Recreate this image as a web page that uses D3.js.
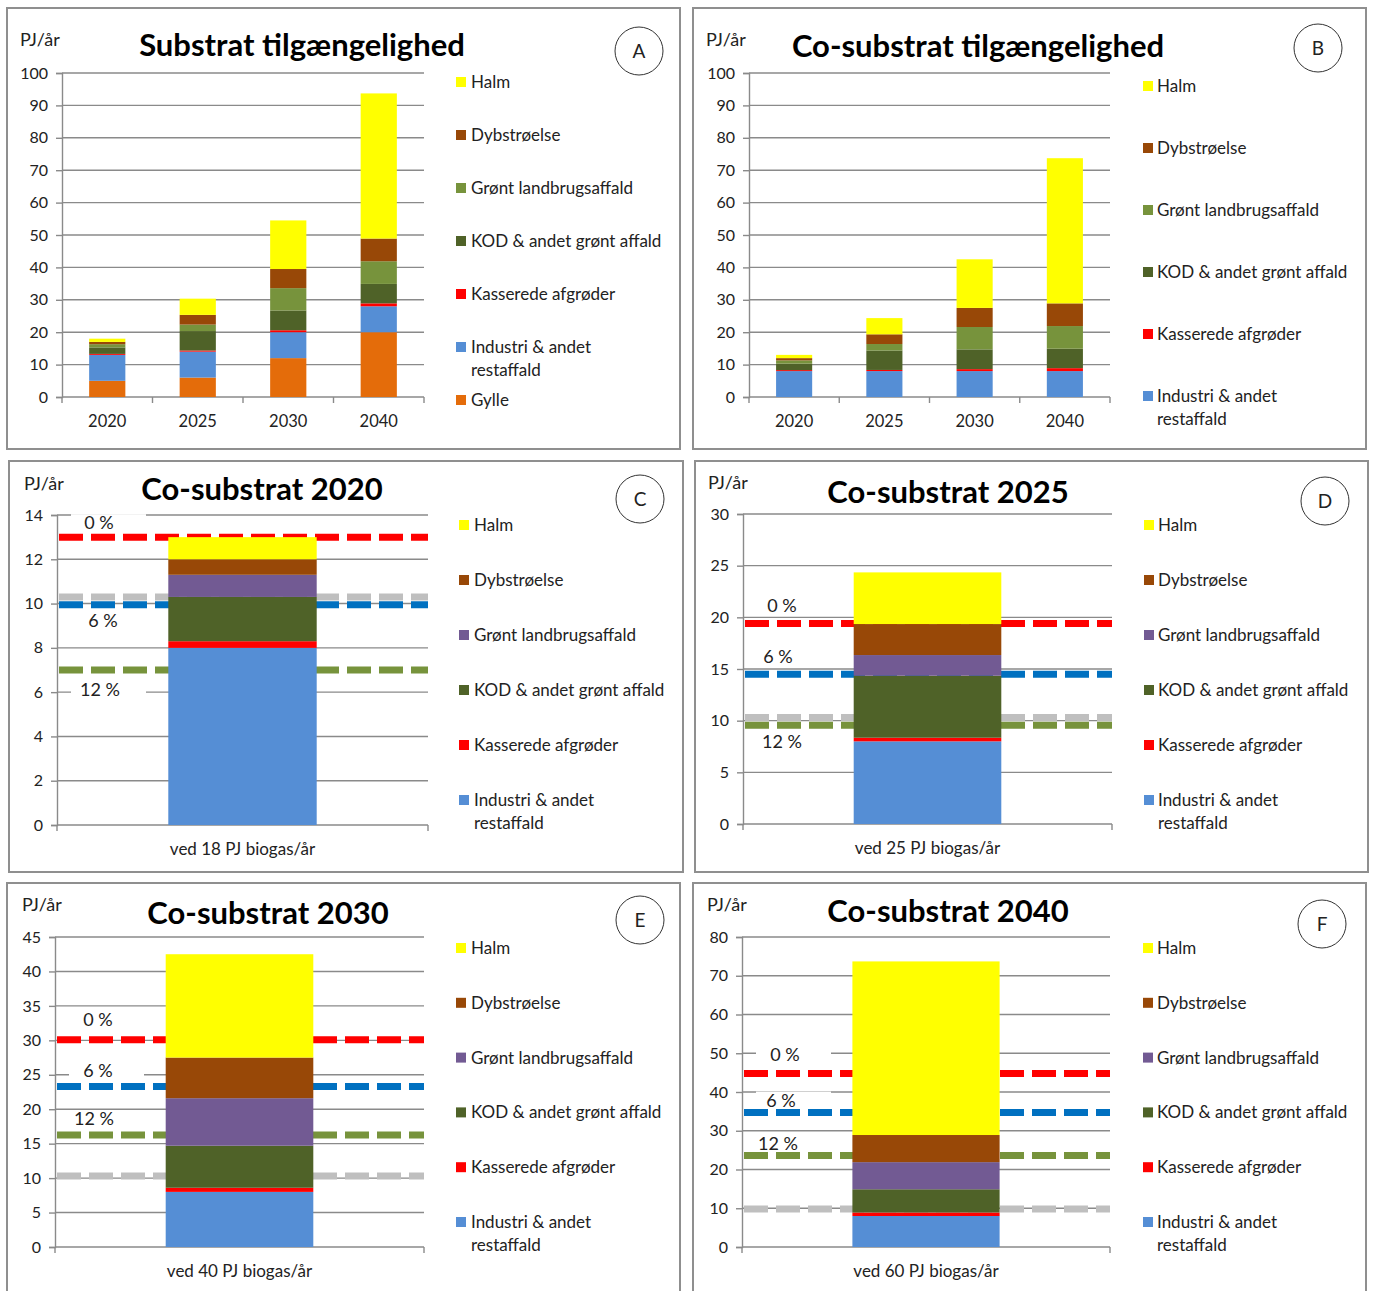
<!DOCTYPE html>
<html>
<head>
<meta charset="utf-8">
<script src="https://cdn.jsdelivr.net/npm/d3@7"></script>
<style>
  body { margin: 0; background: #fff; }
  svg text { font-family: Lato, "Open Sans", sans-serif; fill: #222; }
</style>
</head>
<body>
<svg id="chart" width="1373" height="1291"></svg>
<script>
// ---- data (PJ/år) ----
const years = ["2020", "2025", "2030", "2040"];
const gylle     = [5, 6, 12, 20];
const industri  = [8, 8, 8, 8];
const kasserede = [0.3, 0.35, 0.6, 0.9];
const kod       = [2.0, 6.0, 6.1, 6.0];
const gront     = [1.0, 2.0, 6.9, 7.0];
const dyb       = [0.7, 3.0, 5.9, 7.0];
const halm      = [1.0, 5.0, 15.0, 44.8];

// threshold lines for the co-substrat panels (one value per year)
const line0pct  = [13.0, 19.4, 30.1, 44.8];
const line6pct  = [9.95, 14.5, 23.3, 34.7];
const line12pct = [7.0, 9.55, 16.25, 23.6];
const lineGray  = [10.3, 10.3, 10.3, 9.8];
const biogas    = [18, 25, 40, 60];

const yMaxCo = [14, 30, 45, 80];
const yStepCo = [2, 5, 5, 10];

const names = {
  gylle: "Gylle", industri: "Industri & andet|restaffald", kasserede: "Kasserede afgrøder",
  kod: "KOD & andet grønt affald", gront: "Grønt landbrugsaffald", dyb: "Dybstrøelse", halm: "Halm"
};
const values = { gylle, industri, kasserede, kod, gront, dyb, halm };

const colors = {
  gylle: "#E46C0A", industri: "#558ED5", kasserede: "#FF0000", kod: "#4F6228",
  gront: "#77933C", dyb: "#984807", halm: "#FFFF00"
};
const purple = "#725A93";

const svg = d3.select("#chart");

function panel(cfg) {
  const g = svg.append("g");
  // frame
  g.append("rect")
    .attr("x", cfg.box[0]).attr("y", cfg.box[1])
    .attr("width", cfg.box[2] - cfg.box[0]).attr("height", cfg.box[3] - cfg.box[1])
    .attr("fill", "#fff").attr("stroke", "#8f8f8f").attr("stroke-width", 2);

  g.append("text").attr("x", cfg.pj[0]).attr("y", cfg.pj[1])
    .style("font-size", "18px").text("PJ/år");

  g.append("text").attr("x", cfg.title[0]).attr("y", cfg.title[1])
    .attr("text-anchor", "middle").style("font-size", "31px").style("font-weight", "bold")
    .style("fill", "#000").text(cfg.titleText);

  g.append("circle").attr("cx", cfg.circle[0]).attr("cy", cfg.circle[1]).attr("r", 24)
    .attr("fill", "#fff").attr("stroke", "#333").attr("stroke-width", 1);
  g.append("text").attr("x", cfg.circle[0]).attr("y", cfg.circle[1] + 7)
    .attr("text-anchor", "middle").style("font-size", "19px").text(cfg.letter);

  const x = d3.scaleBand().domain(cfg.cats).range([cfg.axisX, cfg.right])
    .paddingInner(0.6).paddingOuter(0.3);
  const y = d3.scaleLinear().domain([0, cfg.yMax]).range([cfg.yBot, cfg.yTop]);
  const ticks = d3.range(0, cfg.yMax + 0.001, cfg.yStep);

  // gridlines
  g.selectAll(".grid").data(ticks.filter(t => t > 0)).join("line")
    .attr("x1", cfg.axisX).attr("x2", cfg.right)
    .attr("y1", d => y(d)).attr("y2", d => y(d))
    .attr("stroke", "#8a8a8a").attr("stroke-width", 1.4);

  // y axis
  const yAxis = d3.axisLeft(y).tickValues(ticks).tickSize(6).tickPadding(8);
  const ya = g.append("g").attr("transform", `translate(${cfg.axisX},0)`).call(yAxis);
  ya.select(".domain").attr("stroke", "#8a8a8a").attr("stroke-width", 1.4);
  ya.selectAll(".tick line").attr("stroke", "#8a8a8a").attr("stroke-width", 1.4);
  ya.selectAll(".tick text").style("font-size", "16px").style("font-family", "Lato, sans-serif").attr("fill", "#222");

  // x axis with ticks at category boundaries
  g.append("line").attr("x1", cfg.axisX).attr("x2", cfg.right)
    .attr("y1", cfg.yBot).attr("y2", cfg.yBot).attr("stroke", "#8a8a8a").attr("stroke-width", 1.4);
  const step = x.step();
  g.selectAll(".xt").data(d3.range(cfg.cats.length + 1)).join("line")
    .attr("x1", i => cfg.axisX + i * step).attr("x2", i => cfg.axisX + i * step)
    .attr("y1", cfg.yBot).attr("y2", cfg.yBot + 6)
    .attr("stroke", "#8a8a8a").attr("stroke-width", 1.4);
  if (!cfg.xLabel) {
    g.selectAll(".xl").data(cfg.cats).join("text")
      .attr("x", d => x(d) + x.bandwidth() / 2).attr("y", cfg.yBot + 30)
      .attr("text-anchor", "middle").style("font-size", "16.5px").text(d => d);
  }

  // white boxes behind the percentage labels (they hide the gridlines)
  if (cfg.labels) {
    cfg.labels.forEach(l => {
      const cy = y(l.v) + l.dy;
      g.append("rect").attr("x", cfg.axisX + 14).attr("y", cy - 9)
        .attr("width", 75).attr("height", 18).attr("fill", "#fff");
    });
  }

  // threshold lines (behind bars)
  if (cfg.lines) {
    cfg.lines.forEach(l => {
      g.append("line").attr("x1", cfg.axisX + 2).attr("x2", cfg.right)
        .attr("y1", y(l.v)).attr("y2", y(l.v))
        .attr("stroke", l.color).attr("stroke-width", 7).attr("stroke-dasharray", "24 8");
    });
  }

  // stacked bars
  const stack = d3.stack().keys(cfg.keys).value((d, k) => d[k]);
  const rows = cfg.cats.map((c, i) => {
    const r = { cat: c };
    cfg.keys.forEach(k => r[k] = cfg.vals[k][i]);
    return r;
  });
  const layers = stack(rows);
  g.selectAll(".layer").data(layers).join("g")
    .attr("fill", d => cfg.colorOf(d.key))
    .selectAll("rect").data(d => d).join("rect")
    .attr("x", d => x(d.data.cat)).attr("width", x.bandwidth())
    .attr("y", d => y(d[1])).attr("height", d => y(d[0]) - y(d[1]));

  // percentage label texts
  if (cfg.labels) {
    cfg.labels.forEach(l => {
      const cy = y(l.v) + l.dy;
      g.append("text").attr("x", cfg.axisX + l.dx).attr("y", cy + 6)
        .attr("text-anchor", "middle").style("font-size", "18px").text(l.t);
    });
  }

  if (cfg.xLabel) {
    g.append("text").attr("x", x(cfg.cats[0]) + x.bandwidth() / 2).attr("y", cfg.yBot + 30)
      .attr("text-anchor", "middle").style("font-size", "17px").text(cfg.xLabel);
  }

  // legend (top to bottom = reverse stacking order)
  const leg = cfg.keys.slice().reverse();
  leg.forEach((k, i) => {
    const ly = cfg.legend[2] + i * cfg.legend[3];
    g.append("rect").attr("x", cfg.legend[0]).attr("y", ly - 5).attr("width", 10).attr("height", 10)
      .attr("fill", cfg.colorOf(k));
    const lines = names[k].split("|");
    lines.forEach((s, j) => {
      g.append("text").attr("x", cfg.legend[1]).attr("y", ly + 6 + j * 23)
        .style("font-size", "17px").text(s);
    });
  });
}

const keysA = ["gylle", "industri", "kasserede", "kod", "gront", "dyb", "halm"];
const keysB = ["industri", "kasserede", "kod", "gront", "dyb", "halm"];

panel({
  box: [7, 8, 680, 449], pj: [20, 46], title: [302, 56], titleText: "Substrat tilgængelighed",
  circle: [639, 51], letter: "A", axisX: 62, right: 424, yTop: 73, yBot: 397, yMax: 100, yStep: 10,
  cats: years, keys: keysA, vals: values, colorOf: k => colors[k], legend: [456, 471, 82, 53]
});
panel({
  box: [693, 8, 1366, 449], pj: [706, 46], title: [978, 57], titleText: "Co-substrat tilgængelighed",
  circle: [1318, 48], letter: "B", axisX: 749, right: 1110, yTop: 73, yBot: 397, yMax: 100, yStep: 10,
  cats: years, keys: keysB, vals: values, colorOf: k => colors[k], legend: [1143, 1157, 86, 62]
});

const coLayout = [
  { box: [9, 461, 683, 872], pj: [24, 490], title: [262, 500], circle: [640, 499], letter: "C",
    axisX: 57, right: 428, yTop: 515, yBot: 825, legend: [459, 474, 525, 55],
    lab: [[-14, 42], [16, 46], [20, 43]] },
  { box: [695, 461, 1368, 872], pj: [708, 489], title: [948, 503], circle: [1325, 501], letter: "D",
    axisX: 743, right: 1112, yTop: 514, yBot: 824, legend: [1144, 1158, 525, 55],
    lab: [[-18, 39], [-17, 35], [17, 39]] },
  { box: [7, 883, 680, 1300], pj: [22, 911], title: [268, 924], circle: [640, 920], letter: "E",
    axisX: 55, right: 424, yTop: 937, yBot: 1247, legend: [456, 471, 948, 54.8],
    lab: [[-20, 43], [-15, 43], [-16, 39]] },
  { box: [693, 883, 1366, 1300], pj: [707, 911], title: [948, 922], circle: [1322, 924], letter: "F",
    axisX: 742, right: 1110, yTop: 937, yBot: 1247, legend: [1143, 1157, 948, 54.8],
    lab: [[-18, 43], [-12, 39], [-12, 36]] }
];

years.forEach((yr, i) => {
  const L = coLayout[i];
  const cat = "ved " + biogas[i] + " PJ biogas/år";
  const vals = {};
  keysB.forEach(k => vals[k] = [values[k][i]]);
  panel({
    box: L.box, pj: L.pj, title: L.title, titleText: "Co-substrat " + yr, circle: L.circle, letter: L.letter,
    axisX: L.axisX, right: L.right, yTop: L.yTop, yBot: L.yBot, yMax: yMaxCo[i], yStep: yStepCo[i],
    cats: [cat], keys: keysB, vals: vals, xLabel: cat,
    colorOf: k => k === "gront" ? purple : colors[k], legend: L.legend,
    lines: [
      { v: lineGray[i], color: "#BFBFBF" },
      { v: line12pct[i], color: "#77933C" },
      { v: line6pct[i], color: "#0070C0" },
      { v: line0pct[i], color: "#FF0000" }
    ],
    labels: [
      { v: line0pct[i], dy: L.lab[0][0], dx: L.lab[0][1], t: "0 %" },
      { v: line6pct[i], dy: L.lab[1][0], dx: L.lab[1][1], t: "6 %" },
      { v: line12pct[i], dy: L.lab[2][0], dx: L.lab[2][1], t: "12 %" }
    ]
  });
});
</script>
</body>
</html>
